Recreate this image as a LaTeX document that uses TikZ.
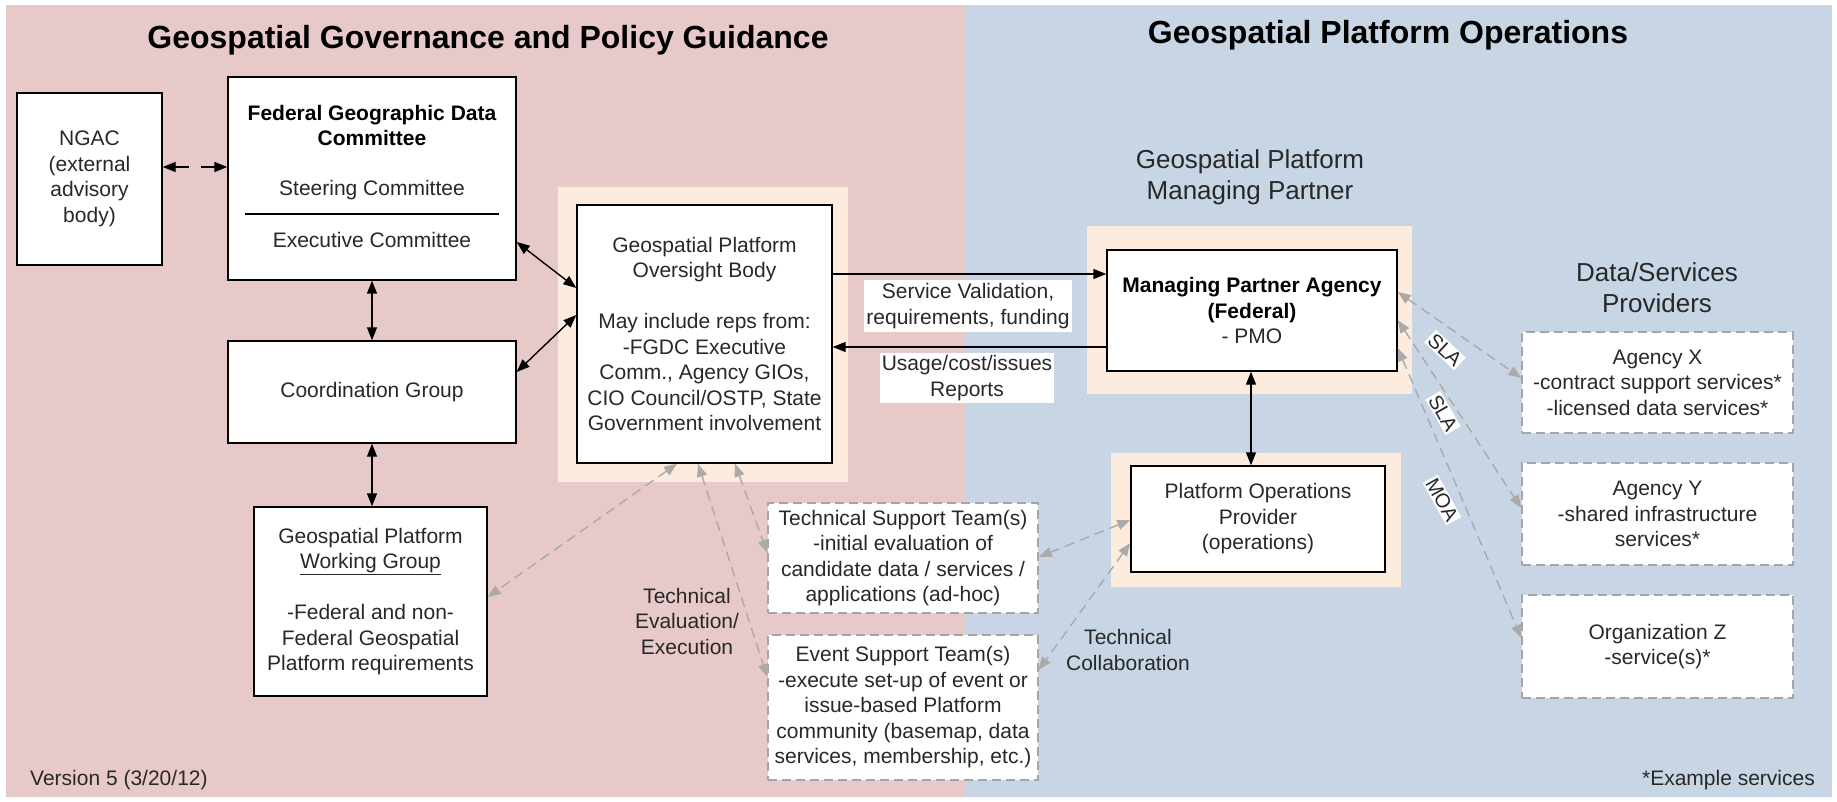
\documentclass[tikz,border=0pt]{standalone}
\usepackage{fontspec}
\setmainfont{Liberation Sans}
\usetikzlibrary{arrows.meta}
\definecolor{pinkbg}{RGB}{231,201,201}
\definecolor{bluebg}{RGB}{199,213,229}
\definecolor{peach}{RGB}{253,235,222}
\definecolor{dgrey}{RGB}{165,165,165}
\definecolor{gryarrow}{RGB}{170,170,170}
\definecolor{txt}{RGB}{40,40,40}
\newcommand\fsbody{\fontsize{21}{25.5}\selectfont}
\newcommand\fsmid{\fontsize{26}{31}\selectfont}
\newcommand\fstitle{\fontsize{32}{37}\selectfont\bfseries}
\newcommand\fslab{\fontsize{20}{24}\selectfont}
\tikzset{
  sbox/.style={draw=black, line width=1.4pt, fill=white},
  dbox/.style={draw=dgrey, line width=1.4pt, dash pattern=on 9pt off 5pt, fill=white},
  blk/.style={draw=black, line width=1.4pt, {Triangle[length=13pt,width=10pt]}-{Triangle[length=13pt,width=10pt]}},
  blkone/.style={draw=black, line width=1.4pt, -{Triangle[length=13pt,width=10pt]}},
  gry/.style={draw=gryarrow, line width=1.4pt, dash pattern=on 10pt off 6pt, {Triangle[length=13pt,width=10pt]}-{Triangle[length=13pt,width=10pt]}},
  lbl/.style={fill=white},
  ttl/.style={font=\fstitle, text=black},
}
\begin{document}
\begin{tikzpicture}[x=1pt,y=-1pt,
  every node/.style={text=txt, inner sep=0pt, align=center, font=\fsbody}]
\useasboundingbox (0,0) rectangle (1837,802);
% backgrounds
\fill[white] (0,0) rectangle (1837,802);
\fill[pinkbg] (6,5) rectangle (966,797);
\fill[bluebg] (966,5) rectangle (1832,797);
\fill[peach] (558,187) rectangle (848,482);
\fill[peach] (1087,226) rectangle (1412,394);
\fill[peach] (1111,453) rectangle (1401,587);

% titles
\node[ttl] (tleft) at (488,40) {Geospatial Governance and Policy Guidance};
\node[ttl] (tright) at (1388,35) {Geospatial Platform Operations};
\node[font=\fsmid] (mptitle) at (1250,177) {Geospatial Platform\\Managing Partner};
\node[font=\fsmid] (dstitle) at (1657,288) {Data/Services\\Providers};

% boxes
\node[sbox, minimum width=145pt, minimum height=172pt] (ngac) at (89.5,179) {NGAC\\(external\\advisory\\body)};
\node[sbox, minimum width=288pt, minimum height=203pt] (fgdc) at (372,178.5) {};
\node[font=\fsbody\bfseries, text=black] (fgdct) at (372,125.5) {Federal Geographic Data\\Committee};
\node (steer) at (372,190) {Steering Committee};
\draw[line width=1.2pt] (245,214) -- (499,214);
\node (exec) at (372,240) {Executive Committee};
\node[sbox, minimum width=288pt, minimum height=102pt] (coord) at (372,392) {Coordination Group};
\node[sbox, minimum width=233pt, minimum height=189pt] (wg) at (370.5,601.5) {Geospatial Platform\\\underline{Working Group}\\[25.5pt]-Federal and non-\\Federal Geospatial\\Platform requirements};
\node[sbox, minimum width=255pt, minimum height=258pt] (ovs) at (704.5,334) {Geospatial Platform\\Oversight Body\\[25.5pt]May include reps from:\\-FGDC Executive\\Comm., Agency GIOs,\\CIO Council/OSTP, State\\Government involvement};
\node[dbox, minimum width=270pt, minimum height=110pt] (tech) at (903,558) {Technical Support Team(s)\\-initial evaluation of\\candidate data / services /\\applications (ad-hoc)};
\node[dbox, minimum width=270pt, minimum height=145pt] (event) at (903,707.5) {Event Support Team(s)\\-execute set-up of event or\\issue-based Platform\\community (basemap, data\\services, membership, etc.)};
\node[sbox, minimum width=290pt, minimum height=121pt] (mpa) at (1252,310.5) {\textbf{\color{black}Managing Partner Agency}\\\textbf{\color{black}(Federal)}\\- PMO};
\node[sbox, minimum width=254pt, minimum height=106pt] (pop) at (1258,519) {Platform Operations\\Provider\\(operations)};
\node[dbox, minimum width=271pt, minimum height=101pt] (agx) at (1657.5,382.5) {Agency X\\-contract support services*\\-licensed data services*};
\node[dbox, minimum width=271pt, minimum height=102pt] (agy) at (1657.5,514) {Agency Y\\-shared infrastructure\\services*};
\node[dbox, minimum width=271pt, minimum height=103pt] (orgz) at (1657.5,646.5) {Organization Z\\-service(s)*};

% free labels
\node (techeval) at (687,621) {Technical\\Evaluation/\\Execution};
\node (techcol) at (1128,650) {Technical\\Collaboration};
\node[anchor=west] (version) at (30,780) {Version 5 (3/20/12)};
\node[anchor=east] (example) at (1815,780) {*Example services};

% black connectors
\draw[blk, dash pattern=on 14pt off 12pt] (ngac.east |- 0,167) -- (fgdc.west |- 0,167);
\draw[blk] (fgdc.south) -- (coord.north);
\draw[blk] (coord.south) -- (coord.south |- wg.north);
\draw[blk] (fgdc.east |- 0,242) -- (ovs.west |- 0,288);
\draw[blk] (coord.east |- 0,372) -- (ovs.west |- 0,315);
\draw[blkone] (ovs.east |- 0,274) -- (mpa.west |- 0,274);
\draw[blkone] (mpa.west |- 0,347) -- (ovs.east |- 0,347);
\draw[blk] (mpa.south -| 1251,0) -- (pop.north -| 1251,0);

% grey dashed connectors
\draw[gry] (ovs.south -| 677,0) -- (wg.east |- 0,597);
\draw[gry] (ovs.south -| 698,0) -- (event.west |- 0,677);
\draw[gry] (ovs.south -| 735,0) -- (tech.west |- 0,553);
\draw[gry] (pop.west |- 0,520) -- (tech.east |- 0,557);
\draw[gry] (pop.west |- 0,543) -- (event.east |- 0,670);
\draw[gry] (mpa.east |- 0,292) -- (agx.west |- 0,378);
\draw[gry] (mpa.east |- 0,320) -- (agy.west |- 0,508);
\draw[gry] (mpa.east |- 0,348) -- (orgz.west |- 0,638);

% connector labels
\node[lbl, minimum width=208pt, minimum height=52pt] (svlab) at (968,306) {Service Validation,\\requirements, funding};
\node[lbl, minimum width=174pt, minimum height=50pt] (uslab) at (967,378) {Usage/cost/issues\\Reports};
\node[lbl, font=\fslab, rotate=-43, inner sep=1.5pt] (sla1) at (1445,350) {SLA};
\node[lbl, font=\fslab, rotate=-60, inner sep=1.5pt] (sla2) at (1443,413) {SLA};
\node[lbl, font=\fslab, rotate=-61, inner sep=1.5pt] (moa) at (1442,500) {MOA};
\end{tikzpicture}
\end{document}
